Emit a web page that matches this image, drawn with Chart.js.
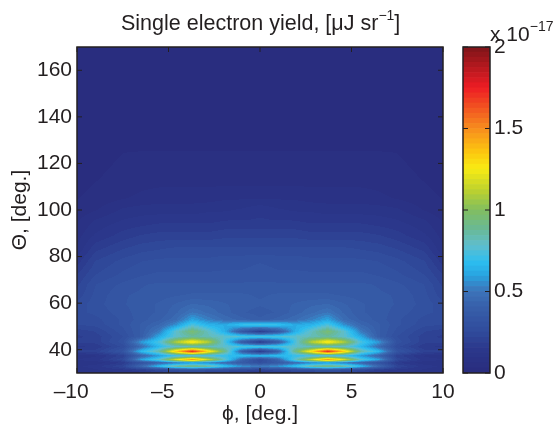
<!DOCTYPE html>
<html lang="en">

<head>
  <meta charset="UTF-8" />
  <title>Single electron yield</title>
  <script src="https://cdn.jsdelivr.net/npm/chart.js"></script>
  <style>
    body { margin: 0; background: white; font-family: "Liberation Sans", Arial, sans-serif; color: #231f20; }
    canvas { position: absolute; top: 0; }
    #grafico { left: 0; }
    #barra { left: 440px; }
    .texto { position: absolute; white-space: nowrap; }
    .texto sup { font-size: 14px; line-height: 0; vertical-align: 10px; }
    #titulo { left: 121px; top: 11px; font-size: 21.5px; }
    #fator { left: 490px; top: 22px; font-size: 21px; }
  </style>
</head>

<body>
  <canvas id="grafico" width="556" height="424"></canvas>
  <canvas id="barra" width="116" height="424"></canvas>
  <div class="texto" id="titulo">Single electron yield, [μJ sr<sup>−1</sup>]</div>
  <div class="texto" id="fator">x 10<sup>−17</sup></div>

  <script>
    var phi = [-10, -9, -7.5, -6.5, -5.5, -4.6, -3.7, -2.8, -1.9, -1, 0, 1, 1.9, 2.8, 3.7, 4.6, 5.5, 6.5, 7.5, 9, 10];
    var theta = [30, 31.4, 32.9, 34.4, 35.7, 37.4, 39.3, 41.3, 43.3, 45.6, 47.8, 50.7, 53, 56, 59.5, 63.5, 68, 72, 78, 83, 89, 95, 100, 105, 113, 126, 143, 170];

    // one row per theta, in units of 1e-17
    var yieldRows = [
      [.10, .10, .12, .14, .18, .20, .22, .20, .18, .15, .14, .15, .18, .20, .22, .20, .18, .14, .12, .10, .10],
      [.10, .12, .15, .18, .25, .30, .32, .30, .28, .25, .22, .25, .28, .30, .32, .30, .25, .18, .15, .12, .10],
      [.12, .14, .22, .45, .68, .88, .95, .88, .70, .58, .52, .58, .70, .88, .95, .88, .68, .45, .22, .14, .12],
      [.10, .10, .16, .30, .42, .50, .55, .52, .45, .36, .28, .36, .45, .52, .55, .50, .42, .30, .16, .10, .10],
      [.13, .14, .24, .60, .78, 1.20, 1.50, 1.15, .78, .42, .25, .42, .78, 1.15, 1.50, 1.20, .78, .60, .24, .14, .13],
      [.10, .12, .20, .42, .58, .68, .70, .70, .68, .68, .68, .68, .68, .70, .70, .68, .58, .42, .20, .12, .10],
      [.20, .20, .32, .66, .86, 1.35, 1.75, 1.30, .90, .40, .15, .40, .90, 1.30, 1.75, 1.35, .86, .66, .32, .20, .20],
      [.15, .16, .26, .46, .66, .78, .80, .80, .78, .76, .76, .76, .78, .80, .80, .78, .66, .46, .26, .16, .15],
      [.20, .20, .30, .58, .74, 1.10, 1.30, 1.10, .72, .36, .15, .36, .72, 1.10, 1.30, 1.10, .74, .58, .30, .20, .20],
      [.18, .20, .28, .38, .62, .78, .86, .82, .78, .76, .76, .76, .78, .82, .86, .78, .62, .38, .28, .20, .18],
      [.20, .22, .30, .38, .52, .78, .96, .80, .62, .34, .17, .34, .62, .80, .96, .78, .52, .38, .30, .22, .20],
      [.25, .26, .32, .38, .44, .56, .74, .64, .62, .70, .74, .70, .62, .64, .74, .56, .44, .38, .32, .26, .25],
      [.25, .27, .32, .36, .40, .46, .60, .52, .46, .42, .38, .42, .46, .52, .60, .46, .40, .36, .32, .27, .25],
      [.27, .29, .33, .36, .38, .43, .50, .46, .42, .38, .36, .38, .42, .46, .50, .43, .38, .36, .33, .29, .27],
      [.26, .30, .34, .36, .38, .41, .44, .43, .41, .39, .38, .39, .41, .43, .44, .41, .38, .36, .34, .30, .26],
      [.23, .29, .34, .35, .36, .37, .38, .38, .38, .38, .37, .38, .38, .38, .38, .37, .36, .35, .34, .29, .23],
      [.21, .28, .32, .34, .35, .35, .35, .35, .35, .35, .35, .35, .35, .35, .35, .35, .35, .34, .32, .28, .21],
      [.19, .25, .29, .31, .32, .32, .32, .32, .32, .32, .33, .32, .32, .32, .32, .32, .32, .31, .29, .25, .19],
      [.14, .22, .26, .28, .29, .29, .29, .29, .30, .30, .31, .30, .30, .29, .29, .29, .29, .28, .26, .22, .14],
      [.10, .18, .22, .24, .25, .26, .26, .26, .26, .26, .26, .26, .26, .26, .26, .26, .25, .24, .22, .18, .10],
      [.08, .13, .17, .19, .20, .20, .20, .20, .21, .21, .21, .21, .21, .20, .20, .20, .20, .19, .17, .13, .08],
      [.06, .10, .13, .14, .15, .15, .15, .15, .16, .16, .16, .16, .16, .15, .15, .15, .15, .14, .13, .10, .06],
      [.04, .06, .10, .11, .11, .11, .11, .12, .12, .13, .15, .13, .12, .12, .11, .11, .11, .11, .10, .06, .04],
      [.03, .04, .06, .07, .08, .08, .08, .08, .09, .09, .09, .09, .09, .08, .08, .08, .08, .07, .06, .04, .03],
      [.02, .03, .04, .05, .05, .05, .05, .05, .05, .05, .05, .05, .05, .05, .05, .05, .05, .05, .04, .03, .02],
      [.02, .02, .03, .03, .03, .03, .03, .03, .03, .03, .03, .03, .03, .03, .03, .03, .03, .03, .03, .02, .02],
      [.02, .02, .02, .02, .02, .02, .02, .02, .02, .02, .02, .02, .02, .02, .02, .02, .02, .02, .02, .02, .02],
      [.01, .01, .01, .01, .01, .01, .01, .01, .01, .01, .01, .01, .01, .01, .01, .01, .01, .01, .01, .01, .01]
    ];

    var xTicks = [-10, -5, 0, 5, 10];
    var yTicks = [40, 60, 80, 100, 120, 140, 160];
    var barTicks = [0, 0.5, 1, 1.5, 2];

    var stopValues = [0, .15, .25, .4, .5, .6, .68, .78, .88, 1, 1.12, 1.25, 1.35, 1.5, 1.75, 2];
    var stopColors = [
      [41, 44, 125], [43, 56, 140], [48, 75, 155], [55, 95, 170], [60, 115, 185], [40, 165, 225],
      [45, 190, 240], [95, 190, 205], [105, 185, 150], [130, 190, 95], [190, 210, 45], [248, 235, 20],
      [252, 200, 15], [247, 140, 30], [237, 28, 36], [125, 20, 25]
    ];
    var niveis = 64;
    var corTexto = "#231f20";
    var fonte = { family: "'Liberation Sans', Arial, sans-serif", size: 21 };

    function corDoNivel(n) {
      var v = (n + 0.5) / niveis * 2;
      var i = 0;
      while (i < stopValues.length - 2 && v > stopValues[i + 1]) i++;
      var t = (v - stopValues[i]) / (stopValues[i + 1] - stopValues[i]);
      var a = stopColors[i], b = stopColors[i + 1];
      return [a[0] + (b[0] - a[0]) * t, a[1] + (b[1] - a[1]) * t, a[2] + (b[2] - a[2]) * t];
    }

    function indice(lista, v) {
      var i = 0;
      while (i < lista.length - 2 && v > lista[i + 1]) i++;
      return i;
    }

    function ticksParaDentro(chart, ctx) {
      var area = chart.chartArea;
      ctx.save();
      ctx.strokeStyle = corTexto;
      ctx.lineWidth = 1;
      if (chart.scales.x.options.display) {
        chart.scales.x.ticks.forEach(function (t) {
          var px = chart.scales.x.getPixelForValue(t.value);
          ctx.beginPath();
          ctx.moveTo(px, area.bottom); ctx.lineTo(px, area.bottom - 5);
          ctx.moveTo(px, area.top); ctx.lineTo(px, area.top + 5);
          ctx.stroke();
        });
      }
      chart.scales.y.ticks.forEach(function (t) {
        var py = chart.scales.y.getPixelForValue(t.value);
        ctx.beginPath();
        ctx.moveTo(area.left, py); ctx.lineTo(area.left + 5, py);
        ctx.moveTo(area.right, py); ctx.lineTo(area.right - 5, py);
        ctx.stroke();
      });
      ctx.lineWidth = 1.5;
      ctx.strokeRect(area.left, area.top, area.right - area.left, area.bottom - area.top);
      ctx.restore();
    }

    // paints the grid through the chart's scales, with the 64 level colormap
    var mapaCalor = {
      id: "mapaCalor",
      beforeDatasetsDraw: function (chart) {
        var area = chart.chartArea;
        var w = Math.round(area.right - area.left);
        var h = Math.round(area.bottom - area.top);
        var off = document.createElement("canvas");
        off.width = w;
        off.height = h;
        var octx = off.getContext("2d");
        var img = octx.createImageData(w, h);
        for (var py = 0; py < h; py++) {
          var th = chart.scales.y.getValueForPixel(area.top + py + 0.5);
          var r = indice(theta, th);
          var tr = (th - theta[r]) / (theta[r + 1] - theta[r]);
          for (var px = 0; px < w; px++) {
            var ph = chart.scales.x.getValueForPixel(area.left + px + 0.5);
            var c = indice(phi, ph);
            var tc = (ph - phi[c]) / (phi[c + 1] - phi[c]);
            var v = yieldRows[r][c] * (1 - tr) * (1 - tc) + yieldRows[r][c + 1] * (1 - tr) * tc +
              yieldRows[r + 1][c] * tr * (1 - tc) + yieldRows[r + 1][c + 1] * tr * tc;
            var n = Math.max(0, Math.min(niveis - 1, Math.floor(v / 2 * niveis)));
            var cor = corDoNivel(n);
            var k = (py * w + px) * 4;
            img.data[k] = cor[0];
            img.data[k + 1] = cor[1];
            img.data[k + 2] = cor[2];
            img.data[k + 3] = 255;
          }
        }
        octx.putImageData(img, 0, 0);
        chart.ctx.drawImage(off, area.left, area.top);
      },
      afterDraw: function (chart) {
        ticksParaDentro(chart, chart.ctx);
      }
    };

    var pontos = [];
    for (var i = 0; i < theta.length; i++) {
      for (var j = 0; j < phi.length; j++) {
        pontos.push({ x: phi[j], y: theta[i], v: yieldRows[i][j] });
      }
    }

    new Chart(document.getElementById("grafico"), {
      type: "scatter",
      data: { datasets: [{ data: pontos, pointRadius: 0 }] },
      plugins: [mapaCalor],
      options: {
        responsive: false,
        animation: false,
        layout: { padding: { top: 47, right: 113, left: 0, bottom: 0 } },
        plugins: { legend: { display: false }, tooltip: { enabled: false } },
        scales: {
          x: {
            type: "linear",
            min: -10,
            max: 10,
            grid: { display: false, drawTicks: false },
            border: { display: false },
            afterFit: function (s) { s.height = 51; },
            afterBuildTicks: function (s) { s.ticks = xTicks.map(function (v) { return { value: v }; }); },
            title: { display: true, text: "ϕ, [deg.]", color: corTexto, font: fonte, padding: { top: 0, bottom: -3 } },
            ticks: {
              color: corTexto,
              font: fonte,
              padding: 7,
              maxRotation: 0,
              // trailing spaces keep the digits centred on the tick, as in the original
              callback: function (v) { return v < 0 ? "–" + Math.abs(v) + "  " : "" + v; }
            }
          },
          y: {
            type: "linear",
            min: 30,
            max: 170,
            grid: { display: false, drawTicks: false },
            border: { display: false },
            afterFit: function (s) { s.width = 77; },
            afterBuildTicks: function (s) { s.ticks = yTicks.map(function (v) { return { value: v }; }); },
            title: { display: true, text: "Θ, [deg.]", color: corTexto, font: fonte, padding: { top: 8, bottom: 0 } },
            ticks: { color: corTexto, font: fonte, padding: 5 }
          }
        }
      }
    });

    // color bar, one stacked bar per colormap level
    var barraDatasets = [];
    for (var n = 0; n < niveis; n++) {
      var c = corDoNivel(n);
      barraDatasets.push({
        data: [2 / niveis],
        backgroundColor: "rgb(" + Math.round(c[0]) + "," + Math.round(c[1]) + "," + Math.round(c[2]) + ")",
        borderWidth: 0,
        barPercentage: 1,
        categoryPercentage: 1
      });
    }

    new Chart(document.getElementById("barra"), {
      type: "bar",
      data: { labels: ["yield"], datasets: barraDatasets },
      plugins: [{
        id: "bordaBarra",
        afterDraw: function (chart) { ticksParaDentro(chart, chart.ctx); }
      }],
      options: {
        responsive: false,
        animation: false,
        layout: { padding: { top: 47, left: 23, right: 0, bottom: 51 } },
        plugins: { legend: { display: false }, tooltip: { enabled: false } },
        scales: {
          x: { stacked: true, display: false },
          y: {
            stacked: true,
            position: "right",
            min: 0,
            max: 2,
            grid: { display: false, drawTicks: false },
            border: { display: false },
            afterFit: function (s) { s.width = 66; },
            afterBuildTicks: function (s) { s.ticks = barTicks.map(function (v) { return { value: v }; }); },
            ticks: { color: corTexto, font: fonte, padding: 4, callback: function (v) { return "" + v; } }
          }
        }
      }
    });
  </script>
</body>

</html>
